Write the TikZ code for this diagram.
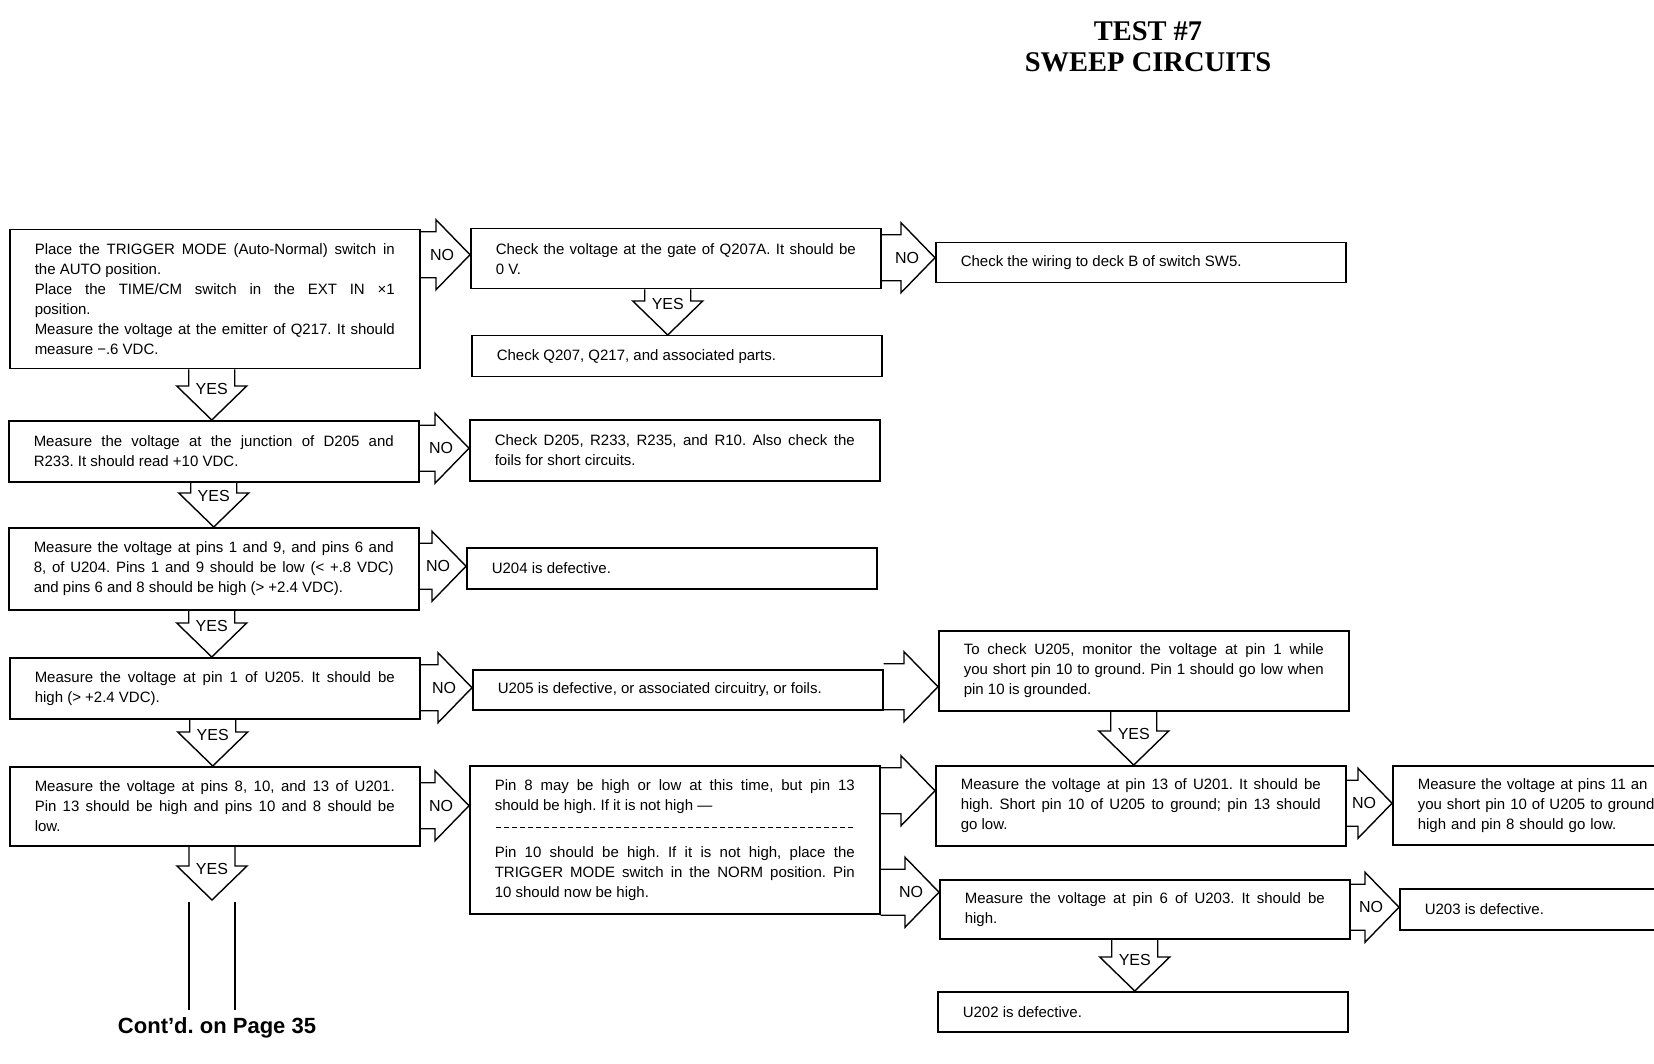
\documentclass[tikz,border=0pt]{standalone}
\usepackage{fontspec}
\setmainfont{Liberation Sans}
\newfontfamily\titlefont{Liberation Serif}
\usetikzlibrary{calc}
\frenchspacing

\begin{document}
\begin{tikzpicture}[x=1pt,y=1pt,line join=miter,
    n/.style={draw,line width=1.5pt,anchor=north west,text width=360pt,inner xsep=25pt,
      inner ysep=0pt,align=justify,font=\fontsize{15}{20}\selectfont},
    l/.style={inner sep=0pt,font=\fontsize{16}{16}\selectfont},
    rt/.style={line width=1.4pt,to path={let \p1=(\tikztostart),\p2=(\tikztotarget) in
      (\x1,\y2+23pt) -- (\x2-34pt,\y2+23pt) -- (\x2-34pt,\y2+35pt) -- (\x2,\y2)
      -- (\x2-34pt,\y2-35pt) -- (\x2-34pt,\y2-23pt) -- (\x1,\y2-23pt)}},
    dn/.style={line width=1.4pt,to path={let \p1=(\tikztostart),\p2=(\tikztotarget) in
      (\x2-23pt,\y1) -- (\x2-23pt,\y2+34pt) -- (\x2-35pt,\y2+34pt) -- (\x2,\y2)
      -- (\x2+35pt,\y2+34pt) -- (\x2+23pt,\y2+34pt) -- (\x2+23pt,\y1)}}]
    \fill[white] (0,0) rectangle (1654,-1064);
    \useasboundingbox (0,0) rectangle (1654,-1064);

    \node[font=\titlefont\bfseries\fontsize{28.5}{31}\selectfont,align=center] (title)
      at (1148,-47) {TEST \#7\\SWEEP CIRCUITS};

    % left column
    \node[n,minimum height=139pt] (auto) at (9,-229) {Place the TRIGGER MODE (Auto-Normal) switch in\linebreak
      the AUTO position.\\ Place the TIME/CM switch in the EXT IN ×1\linebreak position.\\
      Measure the voltage at the emitter of Q217. It should\linebreak measure −.6 VDC.};
    \node[n,minimum height=61pt] (junc) at (8,-420) {Measure the voltage at the junction of D205 and\linebreak
      R233. It should read +10 VDC.};
    \node[n,minimum height=82pt] (u204m) at (8,-527) {Measure the voltage at pins 1 and 9, and pins 6 and\linebreak
      8, of U204. Pins 1 and 9 should be low (< +.8 VDC)\linebreak and pins 6 and 8 should be high (> +2.4 VDC).};
    \node[n,minimum height=61pt] (u205m) at (9,-657) {Measure the voltage at pin 1 of U205. It should be\linebreak
      high (> +2.4 VDC).};
    \node[n,minimum height=79pt] (u201m) at (9,-766) {Measure the voltage at pins 8, 10, and 13 of U201.\linebreak
      Pin 13 should be high and pins 10 and 8 should be\linebreak low.};
    \node[font=\bfseries\fontsize{22}{22}\selectfont] (contd) at (217,-1028) {Cont’d. on Page 35};

    % middle column
    \node[n,minimum height=60pt] (gate) at (470,-228) {Check the voltage at the gate of Q207A. It should be\linebreak 0 V.};
    \node[n,minimum height=41pt] (parts) at (471,-335) {Check Q207, Q217, and associated parts.};
    \node[n,minimum height=61pt] (foils) at (469,-419) {Check D205, R233, R235, and R10. Also check the\linebreak
      foils for short circuits.};
    \node[n,minimum height=41pt] (u204) at (466,-547) {U204 is defective.};
    \node[n,minimum height=40pt] (u205) at (472,-669) {U205 is defective, or associated circuitry, or foils.};
    \node[n,minimum height=148pt] (pin8) at (469,-765) {Pin 8 may be high or low at this time, but pin 13\linebreak
      should be high. If it is not high —\\[27pt] Pin 10 should be high. If it is not high, place the\linebreak
      TRIGGER MODE switch in the NORM position. Pin\linebreak 10 should now be high.};
    \draw[line width=0.9pt,dash pattern=on 5pt off 3pt] ([xshift=27pt,yshift=-62pt]pin8.north west)
      -- ([xshift=-26pt,yshift=-62pt]pin8.north east);

    % right column
    \node[n,minimum height=40pt] (wire) at (935,-242) {Check the wiring to deck B of switch SW5.};
    \node[n,minimum height=80pt] (chk) at (938,-630) {To check U205, monitor the voltage at pin 1 while\linebreak
      you short pin 10 to ground. Pin 1 should go low when\linebreak pin 10 is grounded.};
    \node[n,minimum height=80pt] (pin13) at (935,-765) {Measure the voltage at pin 13 of U201. It should be\linebreak
      high. Short pin 10 of U205 to ground; pin 13 should\linebreak go low.};
    \node[n,minimum height=59pt] (u203m) at (939,-879) {Measure the voltage at pin 6 of U203. It should be\linebreak high.};
    \node[n,minimum height=40pt] (u202) at (937,-991) {U202 is defective.};
    \node[n,align=left,minimum height=79pt] (pins11) at (1392,-765) {Measure the voltage at pins 11 an\\
      you short pin 10 of U205 to ground.\\high and pin 8 should go low.};
    \node[n,minimum height=41pt] (u203) at (1399,-888) {U203 is defective.};

    % NO arrows
    \draw[rt] (auto.east) to ([yshift=4pt]gate.west);
    \node[l] (n1) at ([xshift=-28pt,yshift=4pt]gate.west) {NO};
    \draw[rt] (gate.east) to ([yshift=5pt]wire.west);
    \node[l] (n2) at ([xshift=-28pt,yshift=5pt]wire.west) {NO};
    \draw[rt] (junc.east) to ([yshift=2pt]foils.west);
    \node[l] (n3) at ([xshift=-28pt,yshift=2pt]foils.west) {NO};
    \draw[rt] (u204m.east) to ([yshift=2pt]u204.west);
    \node[l] (n4) at ([xshift=-28pt,yshift=2pt]u204.west) {NO};
    \draw[rt] (u205m.east) to ([yshift=2pt]u205.west);
    \node[l] (n5) at ([xshift=-28pt,yshift=2pt]u205.west) {NO};
    \draw[rt] (u201m.east) to ([yshift=34pt]pin8.west);
    \node[l] (n6) at ([xshift=-28pt,yshift=34pt]pin8.west) {NO};
    \draw[rt] (u205.east) to ([yshift=-16pt]chk.west);
    \draw[rt] (pin8.east) to ([yshift=15pt]pin13.west);
    \draw[rt] (pin8.east) to ([yshift=17pt]u203m.west);
    \node[l] (n7) at ([xshift=-28pt,yshift=17pt]u203m.west) {NO};
    \draw[rt] (pin13.east) to ([yshift=2pt]pins11.west);
    \node[l] (n8) at ([xshift=-28pt,yshift=2pt]pins11.west) {NO};
    \draw[rt] (u203m.east) to ([yshift=2pt]u203.west);
    \node[l] (n9) at ([xshift=-28pt,yshift=2pt]u203.west) {NO};

    % YES arrows
    \draw[dn] (auto.south) to ([xshift=-2pt]junc.north);
    \node[l] (y1) at ([xshift=-2pt,yshift=31pt]junc.north) {YES};
    \draw[dn] (junc.south) to (u204m.north);
    \node[l] (y2) at ([yshift=31pt]u204m.north) {YES};
    \draw[dn] (u204m.south) to ([xshift=-3pt]u205m.north);
    \node[l] (y3) at ([xshift=-3pt,yshift=31pt]u205m.north) {YES};
    \draw[dn] (u205m.south) to ([xshift=-2pt]u201m.north);
    \node[l] (y4) at ([xshift=-2pt,yshift=31pt]u201m.north) {YES};
    \coordinate (contarrow) at (212,-900);
    \draw[dn] (u201m.south) to (contarrow);
    \node[l] (y5) at ([yshift=31pt]contarrow) {YES};
    \coordinate (cl) at ([xshift=-23pt,yshift=-2pt]contarrow);
    \coordinate (cr) at ([xshift=23pt,yshift=-2pt]contarrow);
    \draw[line width=1.4pt] (cl) -- ([yshift=4pt]cl |- contd.north);
    \draw[line width=1.4pt] (cr) -- ([yshift=4pt]cr |- contd.north);
    \draw[dn] (gate.south) to ([xshift=-9pt]parts.north);
    \node[l] (y6) at ([xshift=-9pt,yshift=31pt]parts.north) {YES};
    \draw[dn] (chk.south) to ([xshift=-7pt]pin13.north);
    \node[l] (y7) at ([xshift=-7pt,yshift=31pt]pin13.north) {YES};
    \draw[dn] (u203m.south) to ([xshift=-8pt]u202.north);
    \node[l] (y8) at ([xshift=-8pt,yshift=31pt]u202.north) {YES};
\end{tikzpicture}
\end{document}
